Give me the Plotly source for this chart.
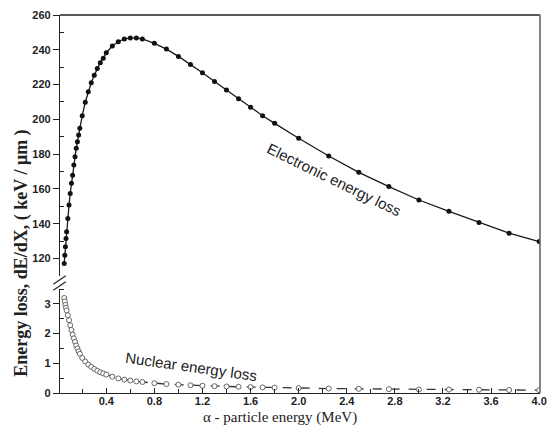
import plotly.graph_objects as go

# alpha-particle energy (MeV)
energy = [0.05, 0.055, 0.06, 0.065, 0.07, 0.08, 0.09, 0.10, 0.11, 0.12, 0.13, 0.14,
          0.15, 0.16, 0.17, 0.18, 0.20, 0.225, 0.25, 0.275, 0.30, 0.325, 0.35, 0.375,
          0.40, 0.45, 0.50, 0.55, 0.60, 0.65, 0.70, 0.80, 0.90, 1.0, 1.1, 1.2, 1.3,
          1.4, 1.5, 1.6, 1.7, 1.8, 2.0, 2.25, 2.5, 2.75, 3.0, 3.25, 3.5, 3.75, 4.0]

# Electronic energy loss (keV/um)
electronic = [117.1, 121.9, 126.7, 131.5, 135.3, 143.0, 150.7, 157.4, 163.2, 167.9, 173.7, 178.5,
              183.3, 187.1, 191.0, 194.8, 202.1, 209.8, 215.9, 221.0, 225.3, 229.3, 232.6, 235.1,
              238.3, 242.2, 244.6, 246.2, 246.8, 246.8, 246.2, 243.7, 240.4, 236.2, 231.6, 226.8, 221.8,
              216.8, 211.8, 206.9, 202.1, 197.7, 189.1, 178.9, 169.5, 161.3, 153.6, 147.1, 140.6, 134.5, 129.7]

# Nuclear energy loss (keV/um)
nuclear = [3.20, 3.08, 2.97, 2.87, 2.78, 2.62, 2.45, 2.28, 2.12, 1.97, 1.84, 1.72,
           1.60, 1.50, 1.40, 1.32, 1.18, 1.06, 0.96, 0.88, 0.81, 0.75, 0.70, 0.66,
           0.62, 0.55, 0.49, 0.45, 0.42, 0.39, 0.37, 0.33, 0.30, 0.28, 0.26, 0.245, 0.23,
           0.22, 0.21, 0.20, 0.19, 0.18, 0.165, 0.15, 0.14, 0.13, 0.12, 0.115, 0.11, 0.10, 0.095]

x_ticks = [0.4, 0.8, 1.2, 1.6, 2.0, 2.4, 2.8, 3.2, 3.6, 4.0]
y_top_ticks = [120, 140, 160, 180, 200, 220, 240, 260]
y_bot_ticks = [0, 1, 2, 3]

fig = go.Figure()
fig.add_trace(go.Scatter(
    x=energy, y=electronic, mode="lines+markers", xaxis="x", yaxis="y2",
    line=dict(color="#1a1a1a", width=1.3),
    marker=dict(size=5, color="#111111"), showlegend=False))
fig.add_trace(go.Scatter(
    x=energy, y=nuclear, mode="lines+markers", xaxis="x", yaxis="y",
    line=dict(color="#333333", width=1.3, dash="dash"),
    marker=dict(size=5, color="white", line=dict(color="#666666", width=1)),
    showlegend=False))

tickfont = dict(family="Liberation Sans", size=11, color="#222222", weight="bold")

fig.update_layout(
    width=555, height=425,
    margin=dict(l=60, r=8, t=15, b=32),
    paper_bgcolor="white", plot_bgcolor="white",
    xaxis=dict(range=[0.015, 4.007], tickvals=x_ticks, ticktext=[f"{v:.1f}" for v in x_ticks],
               ticks="inside", ticklen=5, tickcolor="#222", showline=True, linecolor="#222",
               linewidth=1.3, showgrid=False, zeroline=False, tickfont=tickfont, anchor="y",
               ticklabelstandoff=-2,
               minor=dict(tickvals=[0.2, 0.6, 1.0, 1.4, 1.8, 2.2, 2.6, 3.0, 3.4, 3.8],
                          ticks="inside", ticklen=4, tickcolor="#222")),
    yaxis=dict(domain=[0, 0.275], range=[0, 3.5], tickvals=y_bot_ticks, ticks="outside",
               ticklen=6, tickcolor="#222", showline=True, linecolor="#222", linewidth=1.3,
               showgrid=False, zeroline=False, tickfont=tickfont, anchor="x",
               minor=dict(tickvals=[0.5, 1.5, 2.5, 3.5], ticks="inside", ticklen=4, tickcolor="#222")),
    yaxis2=dict(domain=[0.31, 1], range=[110, 260], tickvals=y_top_ticks, ticks="outside",
                ticklen=6, tickcolor="#222", showline=True, linecolor="#222", linewidth=1.3,
                showgrid=False, zeroline=False, tickfont=tickfont, anchor="x",
                minor=dict(tickvals=[130, 150, 170, 190, 210, 230, 250], ticks="inside",
                           ticklen=4, tickcolor="#222")),
    shapes=[
        dict(type="line", xref="paper", yref="paper", x0=0, x1=1, y0=1, y1=1,
             line=dict(color="#222", width=1.3)),
        dict(type="line", xref="paper", yref="paper", x0=1, x1=1, y0=0, y1=1,
             line=dict(color="#666", width=1.6)),
        dict(type="line", xref="paper", yref="paper", x0=-0.014, x1=0.012, y0=0.272, y1=0.294,
             line=dict(color="#222", width=1.2)),
        dict(type="line", xref="paper", yref="paper", x0=-0.014, x1=0.012, y0=0.288, y1=0.310,
             line=dict(color="#222", width=1.2)),
    ],
    annotations=[
        dict(text="Electronic energy loss", x=0.571, y=0.566, xref="paper", yref="paper",
             showarrow=False, textangle=26, xanchor="center", yanchor="middle",
             font=dict(family="Liberation Sans", size=15, color="#222")),
        dict(text="Nuclear energy loss", x=0.273, y=0.071, xref="paper", yref="paper",
             showarrow=False, textangle=8, xanchor="center", yanchor="middle",
             font=dict(family="Liberation Sans", size=15, color="#222")),
        dict(text="α - particle energy (MeV)", x=0.458, y=-0.066, xref="paper", yref="paper",
             showarrow=False, xanchor="center", yanchor="middle",
             font=dict(family="Liberation Serif", size=15, color="#222")),
        dict(text="Energy loss, dE/dX, ( keV / μm )", x=-0.082, y=0.37, xref="paper",
             yref="paper", showarrow=False, textangle=-90, xanchor="center", yanchor="middle",
             font=dict(family="Liberation Serif", size=18, color="#222", weight="bold")),
    ],
)

fig.write_html("out.html")
